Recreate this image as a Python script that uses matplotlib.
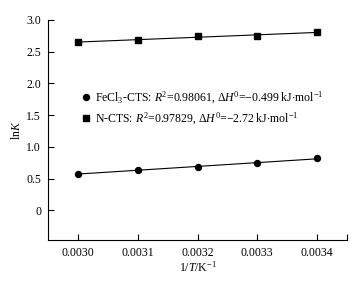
import numpy as np
import matplotlib
matplotlib.use("Agg")
import matplotlib.pyplot as plt

plt.rcParams['font.family'] = ['Liberation Serif', 'DejaVu Serif']
plt.rcParams['mathtext.fontset'] = 'custom'
plt.rcParams['mathtext.rm'] = 'Liberation Serif'
plt.rcParams['mathtext.it'] = 'Liberation Serif:italic'

inv_T = [0.0030, 0.0031, 0.0032, 0.0033, 0.0034]
lnK_fecl3 = [0.577, 0.63, 0.68, 0.745, 0.82]
lnK_ncts = [2.65, 2.69, 2.74, 2.75, 2.81]
xticks = [0.0030, 0.0031, 0.0032, 0.0033, 0.0034, 0.00345]
xticklabels = ['0.0030', '0.0031', '0.0032', '0.0033', '0.0034', '']
yticks = [0, 0.5, 1.0, 1.5, 2.0, 2.5, 3.0]
yticklabels = ['0', '0.5', '1.0', '1.5', '2.0', '2.5', '3.0']

fig = plt.figure(figsize=(3.64, 2.83), dpi=100)
ax = fig.add_axes([48/364, 1-240/283, (347-48)/364, (240-20)/283])

x = np.array(inv_T)
for y, m, ms, lab in [(lnK_fecl3, 'o', 4.3, r'FeCl$_3$-CTS: $R^2$=0.98061, $\Delta H^0$=$-$0.499 kJ$\cdot$mol$^{-1}$'),
                      (lnK_ncts, 's', 4.0, r'N-CTS: $R^2$=0.97829, $\Delta H^0$=$-$2.72 kJ$\cdot$mol$^{-1}$')]:
    p = np.polyfit(x, y, 1)
    ax.plot(x, np.polyval(p, x), color='black', lw=0.8)
    ax.plot(x, y, linestyle='none', marker=m, color='black', markersize=ms, label=lab)

ax.set_xlim(0.00295, 0.00345)
ax.set_ylim(-0.47, 3.0)
ax.set_xticks(xticks)
ax.set_xticklabels(xticklabels)
ax.set_yticks(yticks)
ax.set_yticklabels(yticklabels)
ax.tick_params(direction='in', length=4, width=0.8, labelsize=8.5, pad=5)
for s in ['top', 'right']:
    ax.spines[s].set_visible(False)
for s in ['left', 'bottom']:
    ax.spines[s].set_linewidth(0.8)
ax.set_xlabel(r'1/$T$/K$^{-1}$', fontsize=8.5, labelpad=1)
ax.set_ylabel(r'ln$K$', fontsize=8.5, labelpad=2)

ax.legend(loc='center left', bbox_to_anchor=(0.115, 0.60), frameon=False, fontsize=8.5,
          handlelength=0.6, handletextpad=0.5, labelspacing=0.42, borderaxespad=0,
          borderpad=0)

fig.savefig('out.png', dpi=100)
